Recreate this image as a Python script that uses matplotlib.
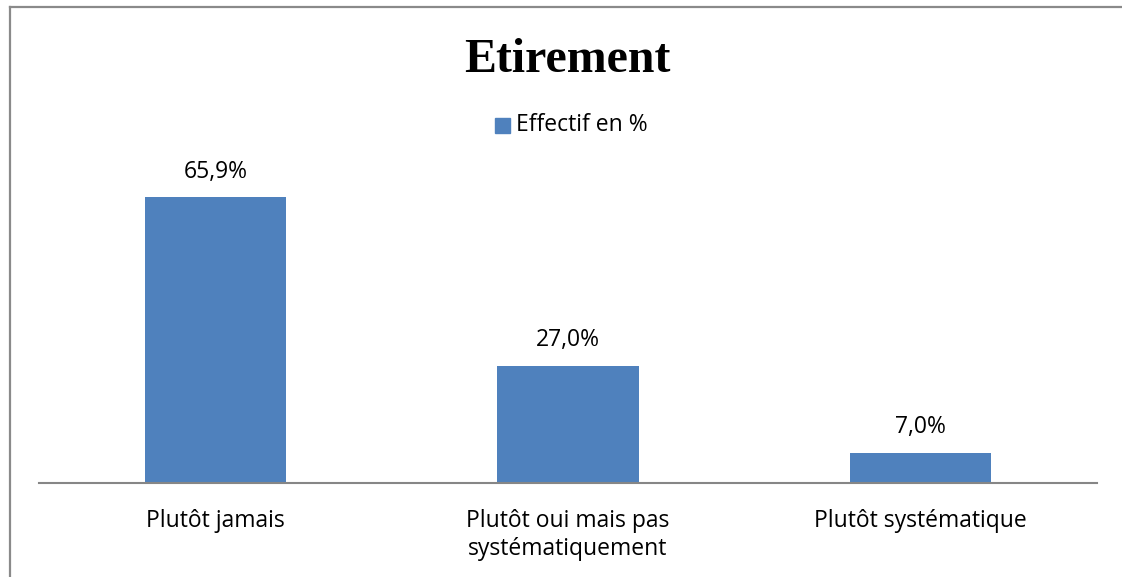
import matplotlib
matplotlib.use("Agg")
import matplotlib.pyplot as plt
from matplotlib.lines import Line2D

categories = ["Plutôt jamais", "Plutôt oui mais pas\nsystématiquement", "Plutôt systématique"]
values = [65.9, 27.0, 7.0]
labels = ["65,9%", "27,0%", "7,0%"]
series_name = "Effectif en %"
title = "Etirement"

W, H = 1122, 577
fig = plt.figure(figsize=(W / 100, H / 100), dpi=100)

def fx(px):
    return px / W

def fy(py):
    return 1 - py / H

FS = 16.5
# axes: x 39..1097, y baseline 483, top at ymax=70
ymax = 70.0
ppu = 4.34
top_px = 483 - ymax * ppu
ax = fig.add_axes([fx(39), fy(483), fx(1097 - 39), fy(top_px) - fy(483)])
bar_color = "#4F81BD"
x = list(range(len(categories)))
ax.bar(x, values, width=0.4, color=bar_color)
ax.set_xlim(-0.5, 2.5)
ax.set_ylim(0, ymax)
for s in ["top", "right", "left"]:
    ax.spines[s].set_visible(False)
ax.spines["bottom"].set_color("#868686")
ax.spines["bottom"].set_linewidth(1.5)
ax.set_yticks([])
ax.set_xticks(x)
ax.set_xticklabels(categories, fontsize=FS, family="Open Sans", linespacing=1.23)
ax.tick_params(axis="x", length=0, pad=18.5)
for xi, v, lab in zip(x, values, labels):
    ax.annotate(lab, (xi, v), xytext=(0, 14), textcoords="offset points",
                ha="center", va="baseline", fontsize=FS, family="Open Sans")

fig.text(fx(567.5), fy(72), title, ha="center", va="baseline", fontsize=34.5,
         fontweight="bold", family="Liberation Serif")

# legend
fig.patches.append(plt.Rectangle((fx(495), fy(133)), fx(15), fy(118) - fy(133),
                                 transform=fig.transFigure, color=bar_color))
fig.text(fx(516), fy(125.5), series_name, ha="left", va="center", fontsize=FS,
         family="Open Sans")

# outer frame
fig.add_artist(Line2D([fx(9.5), fx(9.5)], [fy(6.5), 0], transform=fig.transFigure,
                      color="#8a8a8a", lw=1.6))
fig.add_artist(Line2D([fx(9.5), 1], [fy(6.5), fy(6.5)], transform=fig.transFigure,
                      color="#8a8a8a", lw=1.6))

fig.savefig("out.png", dpi=100)
